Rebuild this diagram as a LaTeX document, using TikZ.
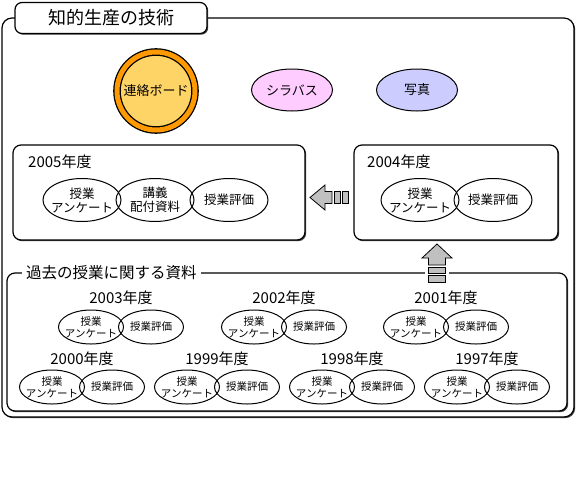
\documentclass[tikz,border=0pt]{standalone}
\usepackage{fontspec}
\setmainfont{Noto Sans CJK JP}
\usetikzlibrary{shapes.geometric, shadows}
\definecolor{boardring}{HTML}{FF9900}
\definecolor{boardfill}{HTML}{FFD466}
\definecolor{sylpink}{HTML}{FFCCFF}
\definecolor{photoblue}{HTML}{CCCCFF}
\definecolor{arrgray}{HTML}{C0C0C0}

\begin{document}
\begin{tikzpicture}[x=1pt, y=-1pt,
    frame/.style={draw, fill=white, rounded corners=#1, line width=1.2pt, inner sep=0pt,
                  drop shadow={shadow xshift=1.2pt, shadow yshift=-1.2pt, fill=black!75, opacity=1}},
    frame/.default=8pt,
    big/.style={ellipse, draw, line width=1pt, minimum width=78pt, minimum height=43pt,
                inner sep=-5pt, align=center, font=\fontsize{12.5}{14}\selectfont},
    small/.style={ellipse, draw, line width=1pt, minimum width=65pt, minimum height=34pt,
                  inner sep=-5pt, align=center, font=\fontsize{10.5}{12}\selectfont},
    yearlbl/.style={font=\fontsize{15}{15}\selectfont, inner sep=1pt},
    tag/.style={ellipse, draw, line width=1pt, minimum width=81pt, minimum height=42pt,
                inner sep=0pt, fill=#1, font=\fontsize{13}{13}\selectfont},
    blockarr/.style={draw, fill=arrgray, line width=0.8pt, line join=miter},
]
    \useasboundingbox (0,0) rectangle (577,498);

    % outer frame and title
    \node[frame=10pt, minimum width=572pt, minimum height=399pt] (outer) at (288,217.5) {};
    \node[frame=7pt, minimum width=192pt, minimum height=31pt,
          font=\fontsize{18}{18}\selectfont] (title) at (111,18) {知的生産の技術};

    % top items
    \node[circle, draw=black, line width=1.3pt, double=boardring, double distance=5pt,
          fill=boardfill, minimum size=78pt, inner sep=0pt,
          font=\fontsize{13}{13}\selectfont] (board) at (156,91) {連絡ボード};
    \node[tag=sylpink] (syllabus) at (292,90) {シラバス};
    \node[tag=photoblue] (photo) at (417,90) {写真};

    % 2005
    \node[frame, minimum width=292pt, minimum height=95pt] (b2005) at (159,192.5) {};
    \node[yearlbl, anchor=west] (l2005) at (27,162) {2005年度};
    \node[big] (q2005) at (82,200) {授業\\アンケート};
    \node[big] (h2005) at (155,200) {講義\\配付資料};
    \node[big] (e2005) at (229,200) {授業評価};

    % 2004
    \node[frame, minimum width=204pt, minimum height=95pt] (b2004) at (456,192.5) {};
    \node[yearlbl, anchor=west] (l2004) at (366,162) {2004年度};
    \node[big] (q2004) at (420,200) {授業\\アンケート};
    \node[big] (e2004) at (493,200) {授業評価};

    % past years
    \node[frame, minimum width=560pt, minimum height=138pt] (past) at (287,342) {};
    \node[fill=white, anchor=west, inner sep=4pt,
          font=\fontsize{15.5}{15.5}\selectfont] (pastlbl) at (22,273) {過去の授業に関する資料};

    \node[yearlbl] (l2003) at (121,298) {2003年度};
    \node[small] (q2003) at (91,327) {授業\\アンケート};
    \node[small] (e2003) at (151,327) {授業評価};

    \node[yearlbl] (l2002) at (284,298) {2002年度};
    \node[small] (q2002) at (254,327) {授業\\アンケート};
    \node[small] (e2002) at (314,327) {授業評価};

    \node[yearlbl] (l2001) at (446,298) {2001年度};
    \node[small] (q2001) at (416,327) {授業\\アンケート};
    \node[small] (e2001) at (476,327) {授業評価};

    \node[yearlbl] (l2000) at (82,359) {2000年度};
    \node[small] (q2000) at (52,387) {授業\\アンケート};
    \node[small] (e2000) at (112,387) {授業評価};

    \node[yearlbl] (l1999) at (217,359) {1999年度};
    \node[small] (q1999) at (187,387) {授業\\アンケート};
    \node[small] (e1999) at (247,387) {授業評価};

    \node[yearlbl] (l1998) at (352,359) {1998年度};
    \node[small] (q1998) at (322,387) {授業\\アンケート};
    \node[small] (e1998) at (382,387) {授業評価};

    \node[yearlbl] (l1997) at (487,359) {1997年度};
    \node[small] (q1997) at (457,387) {授業\\アンケート};
    \node[small] (e1997) at (517,387) {授業評価};

    % arrow 2004 -> 2005
    \filldraw[blockarr] (310,197.5) -- (325,185) -- (325,191.5) -- (332,191.5)
        -- (332,203.5) -- (325,203.5) -- (325,210) -- cycle;
    \filldraw[blockarr] (334,191.5) rectangle (340,203.5);
    \filldraw[blockarr] (342,191.5) rectangle (348,203.5);

    % arrow past -> 2004
    \fill[white] (425,258) rectangle (449,285);
    \filldraw[blockarr] (437,244) -- (452,258) -- (445.5,258) -- (445.5,265)
        -- (428.5,265) -- (428.5,258) -- (422,258) -- cycle;
    \filldraw[blockarr] (428.5,267) rectangle (445.5,273);
    \filldraw[blockarr] (428.5,275) rectangle (445.5,282);
\end{tikzpicture}
\end{document}
